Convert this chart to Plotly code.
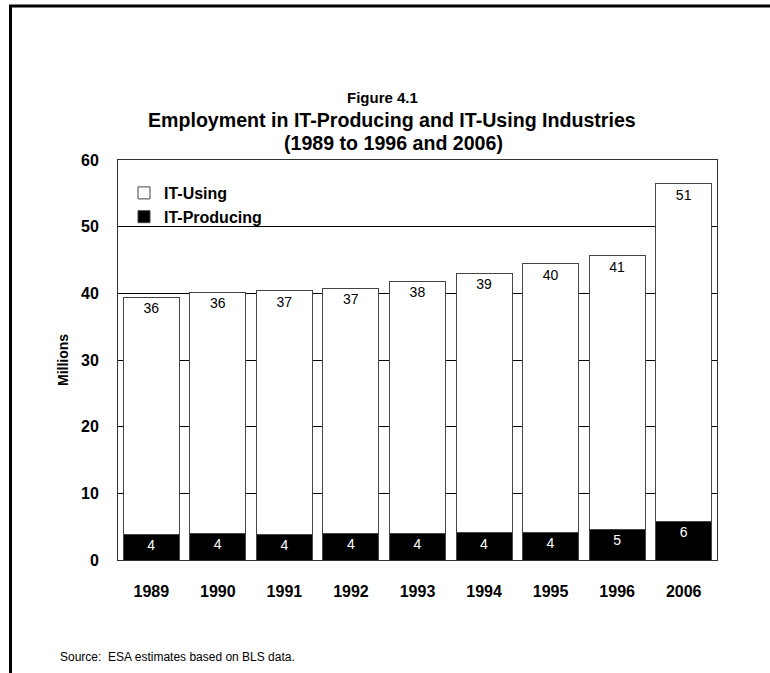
import plotly.graph_objects as go

years = ["1989", "1990", "1991", "1992", "1993", "1994", "1995", "1996", "2006"]
it_producing = [3.9, 4.0, 3.9, 4.0, 4.0, 4.1, 4.2, 4.6, 5.85]
it_using = [35.5, 36.15, 36.5, 36.8, 37.8, 38.9, 40.25, 41.05, 50.6]
y_ticks = [0, 10, 20, 30, 40, 50, 60]

FONT = "Arial, Liberation Sans, sans-serif"

# plot area in pixels
W, H = 770, 673
L, R, T, B = 118, 717, 160, 560
pw, ph = R - L, B - T


def px(x):
    return (x - L) / pw


def py(y):
    return (B - y) / ph


fig = go.Figure()
fig.add_trace(go.Bar(
    x=years, y=it_producing, name="IT-Producing",
    marker=dict(color="black", line=dict(color="#444", width=1)),
    texttemplate="%{y:.0f}", textposition="inside", insidetextanchor="end",
    textangle=0, constraintext="none",
    textfont=dict(family=FONT, size=14, color="white"),
    hoverinfo="skip",
))
fig.add_trace(go.Bar(
    x=years, y=it_using, name="IT-Using",
    marker=dict(color="white", line=dict(color="#444", width=1)),
    texttemplate="%{y:.0f}", textposition="inside", insidetextanchor="end",
    textangle=0, constraintext="none",
    textfont=dict(family=FONT, size=14, color="black"),
    hoverinfo="skip",
))

annotations = [
    dict(text="Figure 4.1", x=px(382), y=py(97), xref="paper", yref="paper",
         showarrow=False, xanchor="center", yanchor="middle",
         font=dict(family=FONT, size=15, color="black", weight="bold")),
    dict(text="Employment in IT-Producing and IT-Using Industries", x=px(392), y=py(120),
         xref="paper", yref="paper", showarrow=False, xanchor="center", yanchor="middle",
         font=dict(family=FONT, size=19.6, color="black", weight="bold")),
    dict(text="(1989 to 1996 and 2006)", x=px(393), y=py(143),
         xref="paper", yref="paper", showarrow=False, xanchor="center", yanchor="middle",
         font=dict(family=FONT, size=19.6, color="black", weight="bold")),
    dict(text="Millions", x=px(63), y=0.5, xref="paper", yref="paper",
         showarrow=False, textangle=-90, xanchor="center", yanchor="middle",
         font=dict(family=FONT, size=14, color="black", weight="bold")),
    dict(text="Source:  ESA estimates based on BLS data.", x=px(58), y=py(657),
         xref="paper", yref="paper", showarrow=False, xanchor="left", yanchor="middle",
         font=dict(family=FONT, size=12, color="black")),
]

shapes = [
    dict(type="line", xref="paper", yref="paper", x0=px(9), x1=px(770), y0=py(6), y1=py(6),
         line=dict(color="black", width=3)),
    dict(type="line", xref="paper", yref="paper", x0=px(10.5), x1=px(10.5), y0=py(5), y1=py(673),
         line=dict(color="black", width=3)),
]

fig.update_layout(
    width=W, height=H,
    margin=dict(l=L, r=W - R, t=T, b=H - B, pad=0),
    paper_bgcolor="white", plot_bgcolor="white",
    barmode="stack", bargap=0.16,
    font=dict(family=FONT, color="black"),
    showlegend=True,
    legend=dict(x=px(124), y=py(205), xanchor="left", yanchor="middle",
                traceorder="reversed", bgcolor="rgba(0,0,0,0)",
                font=dict(family=FONT, size=16, color="black", weight="bold"),
                itemwidth=30, tracegroupgap=0),
    annotations=annotations,
    shapes=shapes,
    xaxis=dict(showline=True, linecolor="#333", linewidth=1, mirror=True,
               ticks="", showgrid=False, ticklabelstandoff=17,
               tickfont=dict(family=FONT, size=16, color="black", weight="bold"),
               fixedrange=True),
    yaxis=dict(range=[0, 60], tickvals=y_ticks, showline=True, linecolor="#333",
               linewidth=1, mirror=True, ticks="", showgrid=True, gridcolor="black",
               gridwidth=1, zeroline=False, ticklabelstandoff=15,
               tickfont=dict(family=FONT, size=16, color="black", weight="bold"),
               fixedrange=True),
)

fig.write_html("out.html", config={"displayModeBar": False},
               post_script="document.body.style.margin='0';")
